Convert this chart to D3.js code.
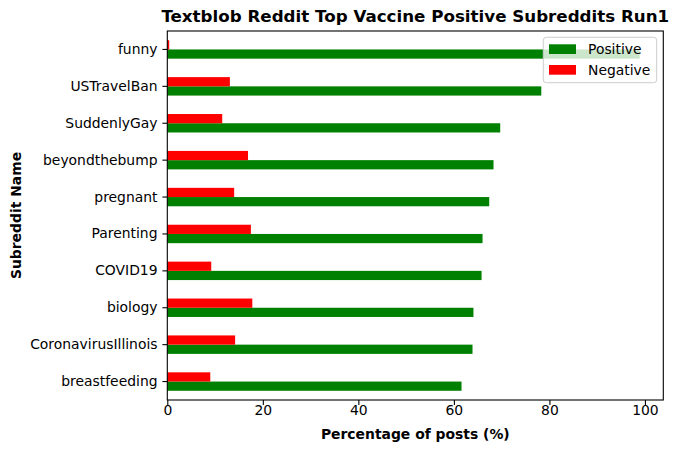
<!DOCTYPE html>
<html>
<head>
<meta charset="utf-8">
<script src="https://cdn.jsdelivr.net/npm/d3@7"></script>
<style>
  body { margin: 0; background: #fff; }
  svg text { font-family: "DejaVu Sans", sans-serif; }
</style>
</head>
<body>
<svg id="chart" width="677" height="453"></svg>
<script>
// subreddits, top of chart first
const subreddits = ["funny", "USTravelBan", "SuddenlyGay", "beyondthebump", "pregnant",
                    "Parenting", "COVID19", "biology", "CoronavirusIllinois", "breastfeeding"];
const positive = [98.9, 78.3, 69.7, 68.3, 67.4, 66.0, 65.8, 64.1, 63.9, 61.6];
const negative = [0.4, 13.1, 11.5, 16.9, 14.0, 17.5, 9.2, 17.8, 14.2, 9.0];
const xTicks = [0, 20, 40, 60, 80, 100];
const seriesNames = ["Positive", "Negative"];
const seriesColors = ["green", "red"];

const plotLeft = 167.3, plotRight = 663.3, plotTop = 31, plotBottom = 400;
const svg = d3.select("svg#chart");

// matplotlib style 5% margin on the far side
const xMax = d3.max(positive.concat(negative)) * 1.05;
const x = d3.scaleLinear().domain([0, xMax]).range([plotLeft, plotRight]);
const y = d3.scaleBand().domain(subreddits).range([plotTop, plotBottom]).padding(0);
const barH = y.bandwidth() * 0.25;
const mid = d => y(d) + y.bandwidth() / 2;

// bars: negative sits above the tick, positive below
svg.append("g").selectAll("rect")
  .data(subreddits)
  .enter().append("rect")
  .attr("x", x(0))
  .attr("y", d => mid(d))
  .attr("width", (d, i) => x(positive[i]) - x(0))
  .attr("height", barH)
  .attr("fill", seriesColors[0]);

svg.append("g").selectAll("rect")
  .data(subreddits)
  .enter().append("rect")
  .attr("x", x(0))
  .attr("y", d => mid(d) - barH)
  .attr("width", (d, i) => x(negative[i]) - x(0))
  .attr("height", barH)
  .attr("fill", seriesColors[1]);

// axes
const xAxis = svg.append("g")
  .attr("transform", `translate(0,${plotBottom})`)
  .call(d3.axisBottom(x).tickValues(xTicks).tickSize(4.9).tickPadding(4.9));
const yAxis = svg.append("g")
  .attr("transform", `translate(${plotLeft},0)`)
  .call(d3.axisLeft(y).tickSize(4.9).tickPadding(4.9));

[xAxis, yAxis].forEach(a => {
  a.select(".domain").remove();
  a.selectAll("line").attr("stroke", "#000").attr("stroke-width", 1.1);
  a.selectAll("text").attr("font-size", "13.9px").attr("fill", "#000")
    .style("font-family", "'DejaVu Sans', sans-serif");
});
// pull x tick labels up a bit, like matplotlib
xAxis.selectAll("text").attr("y", 5.2);

// frame
svg.append("rect")
  .attr("x", plotLeft).attr("y", plotTop)
  .attr("width", plotRight - plotLeft).attr("height", plotBottom - plotTop)
  .attr("fill", "none").attr("stroke", "#000").attr("stroke-width", 1.1);

// texts
svg.append("text")
  .attr("x", (plotLeft + plotRight) / 2).attr("y", 22)
  .attr("text-anchor", "middle")
  .attr("font-size", "16.7px").attr("font-weight", "bold")
  .text("Textblob Reddit Top Vaccine Positive Subreddits Run1");

svg.append("text")
  .attr("x", (plotLeft + plotRight) / 2).attr("y", 439)
  .attr("text-anchor", "middle")
  .attr("font-size", "13.9px").attr("font-weight", "bold")
  .text("Percentage of posts (%)");

svg.append("text")
  .attr("transform", `translate(20.5,${(plotTop + plotBottom) / 2}) rotate(-90)`)
  .attr("text-anchor", "middle")
  .attr("font-size", "13.9px").attr("font-weight", "bold")
  .text("Subreddit Name");

// legend
const legend = svg.append("g");
legend.append("rect")
  .attr("x", 543.3).attr("y", 37.3)
  .attr("width", 113.4).attr("height", 45.4)
  .attr("rx", 3)
  .attr("fill", "#fff").attr("fill-opacity", 0.8)
  .attr("stroke", "#cccccc").attr("stroke-width", 1);

seriesNames.forEach((name, i) => {
  legend.append("rect")
    .attr("x", 549).attr("y", 44.3 + i * 20.7)
    .attr("width", 27).attr("height", 9.7)
    .attr("fill", seriesColors[i]);
  legend.append("text")
    .attr("x", 588).attr("y", 54 + i * 20.7)
    .attr("font-size", "13.9px")
    .text(name);
});
</script>
</body>
</html>
